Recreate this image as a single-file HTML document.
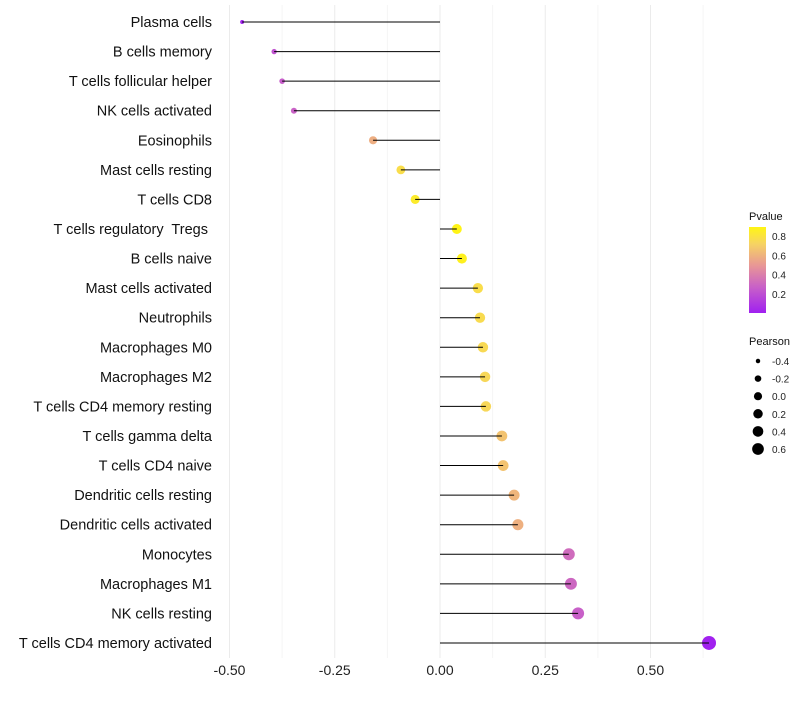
<!DOCTYPE html>
<html><head><meta charset="utf-8"><style>
body{margin:0;background:#fff}
svg{font-family:"Liberation Sans",sans-serif}
</style></head><body>
<svg id="chart" width="800" height="700"></svg>
<script>
const categories=["Plasma cells","B cells memory","T cells follicular helper","NK cells activated","Eosinophils","Mast cells resting","T cells CD8","T cells regulatory  Tregs ","B cells naive","Mast cells activated","Neutrophils","Macrophages M0","Macrophages M2","T cells CD4 memory resting","T cells gamma delta","T cells CD4 naive","Dendritic cells resting","Dendritic cells activated","Monocytes","Macrophages M1","NK cells resting","T cells CD4 memory activated"];
const pearson=[-0.47,-0.394,-0.375,-0.347,-0.159,-0.093,-0.059,0.040,0.052,0.090,0.095,0.102,0.107,0.109,0.147,0.150,0.176,0.185,0.306,0.311,0.328,0.639];
const pvalue=[0.02,0.22,0.26,0.28,0.58,0.77,0.84,0.89,0.87,0.77,0.76,0.75,0.74,0.74,0.66,0.66,0.61,0.59,0.32,0.3,0.27,0.01];
const xTicks=[-0.5,-0.25,0,0.25,0.5];
const xTickLabels=["-0.50","-0.25","0.00","0.25","0.50"];
const pTicks=[0.2,0.4,0.6,0.8];
const sizeTicks=[-0.4,-0.2,0.0,0.2,0.4,0.6];

const NS="http://www.w3.org/2000/svg";
const svg=document.getElementById('chart');
function mk(t,a,p){const e=document.createElementNS(NS,t);for(const k in a)e.setAttribute(k,a[k]);(p||svg).appendChild(e);return e;}
const x=v=>440+v*421;
const y=i=>22+i*29.57;
const pMin=0.004,pMax=0.893;
function lerp(a,b,t){return Math.round(a+(b-a)*t);}
const stops=[[0,[160,32,240]],[0.3,[200,96,200]],[0.55,[232,150,150]],[0.8,[246,210,100]],[1,[255,245,20]]];
function col(p){let t=Math.max(0,Math.min(1,(p-pMin)/(pMax-pMin)));
 let k=0;while(k<stops.length-2&&t>stops[k+1][0])k++;
 const a=stops[k],b=stops[k+1];const u=(t-a[0])/(b[0]-a[0]);
 return `rgb(${lerp(a[1][0],b[1][0],u)},${lerp(a[1][1],b[1][1],u)},${lerp(a[1][2],b[1][2],u)})`;}
const rad=v=>Math.sqrt(4+40.5*(v+0.47));

for(let v=-0.5;v<=0.626;v+=0.125){const major=Math.abs(v/0.25-Math.round(v/0.25))<1e-6;
const g=mk('line',{x1:x(v),x2:x(v),y1:5,y2:658,stroke:major?'#ebebeb':'#f5f5f5','stroke-width':1});
}
xTicks.forEach((v,i)=>{const t=mk('text',{x:x(v),y:675,'text-anchor':'middle','font-size':14,fill:'#222'});t.textContent=xTickLabels[i];
});
categories.forEach((c,i)=>{
 const t=mk('text',{x:212,y:y(i)+5,'text-anchor':'end','font-size':14.5,fill:'#111','xml:space':'preserve'});t.style.whiteSpace='pre';t.textContent=c;
 
 const d=mk('circle',{cx:x(pearson[i]),cy:y(i),r:rad(pearson[i]),fill:col(pvalue[i])});
 
 const l=mk('line',{x1:x(0),x2:x(pearson[i]),y1:y(i),y2:y(i),stroke:'#000','stroke-width':1});
 
});
const lt=mk('text',{x:749,y:220,'font-size':11,fill:'#111'});lt.textContent='Pvalue';

const defs=mk('defs',{});const gr=mk('linearGradient',{id:'pg',x1:0,y1:1,x2:0,y2:0},defs);
[0,0.15,0.3,0.45,0.55,0.7,0.8,0.9,1].forEach(t=>mk('stop',{offset:t,'stop-color':col(pMin+t*(pMax-pMin))},gr));
const cb=mk('rect',{x:749,y:227,width:17,height:86,fill:'url(#pg)'});

const py=p=>313-(p-pMin)/(pMax-pMin)*86;
pTicks.forEach(p=>{const t=mk('text',{x:772,y:py(p)+4,'font-size':10,fill:'#222'});t.textContent=p.toFixed(1);
});
const st=mk('text',{x:749,y:345,'font-size':11,fill:'#111'});st.textContent='Pearson';

sizeTicks.forEach((v,i)=>{const cy=361+i*17.6;
 const c=mk('circle',{cx:758,cy:cy,r:rad(v)*0.85,fill:'#000'});
 
 const t=mk('text',{x:772,y:cy+4,'font-size':10,fill:'#222'});t.textContent=v.toFixed(1);
 });
</script>
</body></html>
